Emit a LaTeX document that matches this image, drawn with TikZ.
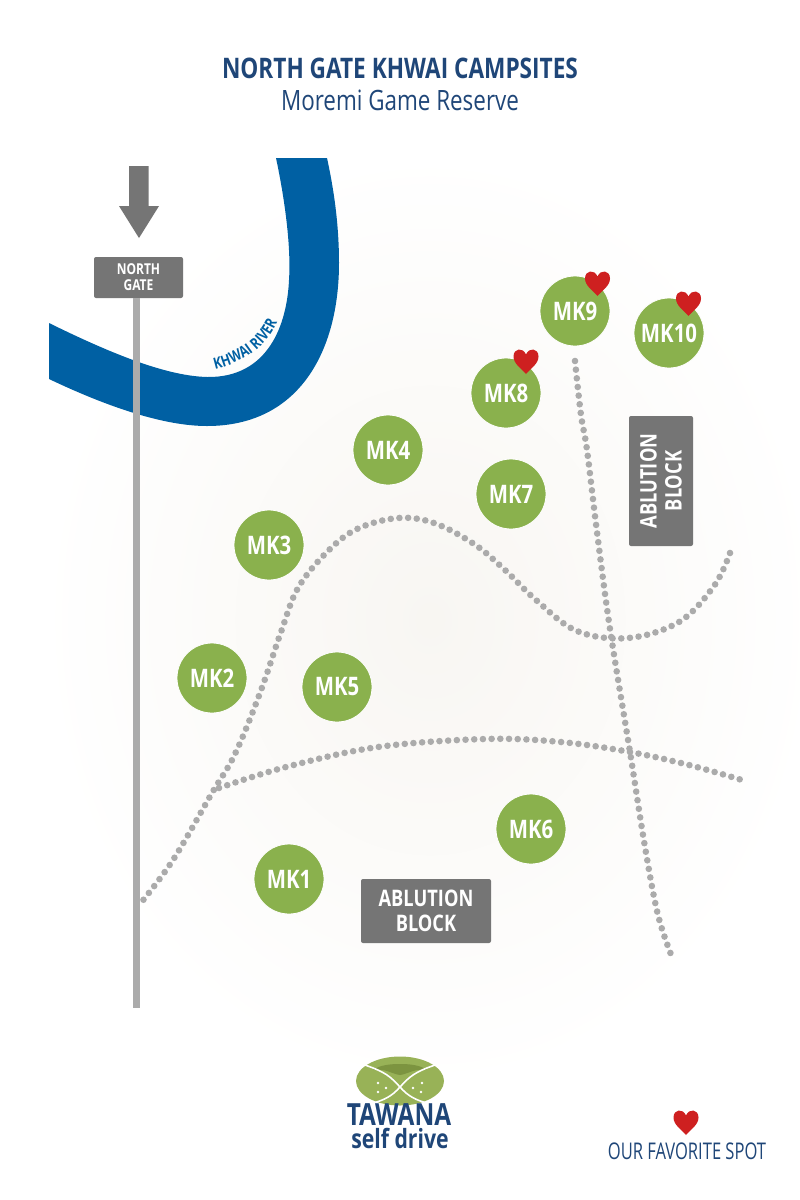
\documentclass[tikz,border=0pt]{standalone}
\usepackage{xcolor}
\usepackage{fontspec}
\setmainfont{Open Sans}
\newfontfamily\narrowfont[FakeStretch=0.8]{Open Sans}
\newfontfamily\slimfont[FakeStretch=0.72]{Open Sans}
\usetikzlibrary{decorations.text}
\definecolor{campgreen}{HTML}{8AB14D}
\definecolor{logogreen}{HTML}{98B257}
\definecolor{logodark}{HTML}{7C9440}
\definecolor{signgrey}{HTML}{757575}
\definecolor{roadgrey}{HTML}{ABABAB}
\definecolor{riverblue}{HTML}{0060A3}
\definecolor{titleblue}{HTML}{1F4678}
\definecolor{heartred}{HTML}{CE2020}
\definecolor{groundtint}{HTML}{F8F6F2}
\tikzset{
	camp/.style={circle,fill=campgreen,draw=white,line width=0.8pt,minimum size=70pt,inner sep=0pt,text=white,font=\narrowfont\bfseries\fontsize{25.5}{25.5}\selectfont},
	signbox/.style={fill=signgrey,rounded corners=2pt,inner sep=0pt,text=white,align=center},
	dotroad/.style={roadgrey,line width=6.6pt,line cap=round,dash pattern=on 0pt off 8.7pt},
	heartmark/.pic={\fill [heartred] (0,12) .. controls (-4,7) and (-12.5,2) .. (-12.5,-5.5) .. controls (-12.5,-14) and (-3,-15) .. (0,-7.5) .. controls (3,-15) and (12.5,-14) .. (12.5,-5.5) .. controls (12.5,2) and (4,7) .. (0,12) -- cycle;}
}
\begin{document}
\begin{tikzpicture}[x=1pt,y=-1pt]
		\useasboundingbox (0,0) rectangle (800,1200);
		\fill [white] (0,0) rectangle (800,1200);
		\shade [inner color=groundtint,outer color=white] (40,150) rectangle (820,1090);
		% title
		\node (title) [text=titleblue,font=\narrowfont\bfseries\fontsize{28.3}{28.3}\selectfont] at (400,68) {NORTH GATE KHWAI CAMPSITES};
		\node (subtitle) [text=titleblue,font=\narrowfont\fontsize{28}{28}\selectfont] at (400,100) {Moremi Game Reserve};
		% river
		\fill [riverblue] (276,158) .. controls (286,205) and (291,250) .. (289,280) .. controls (287,325) and (268,378) .. (207,377) .. controls (170,376) and (120,358) .. (49,323) -- (49,379) .. controls (110,408) and (165,426) .. (207,426) .. controls (300,426) and (339,350) .. (339,263) .. controls (339,225) and (334,190) .. (327,158) -- cycle;
		\path [postaction={decorate,decoration={text along path,text align=center,text color=riverblue,text={|\narrowfont\bfseries\fontsize{15.5}{15.5}\selectfont|KHWAI RIVER}}}] (211,370) .. controls (245,363) and (268,346) .. (279,318);
		% gate
		\node (gate) [signbox,minimum width=89pt,minimum height=41pt,font=\narrowfont\bfseries\fontsize{15}{16}\selectfont] at (138.5,277.5) {NORTH\\GATE};
		\coordinate (postend) at (136.7,1008);
		\draw [roadgrey,line width=6.8pt] (postend |- gate.south) -- (postend);
		\fill [signgrey] (129,166) -- (148.5,166) -- (148.5,206) -- (159,206) -- (139,238) -- (119,206) -- (129,206) -- cycle;
		% roads
		\draw [dotroad] plot [smooth,tension=0.6] coordinates {(575,361) (581,415) (587,450) (597,532) (610,629) (630,752) (645,847) (658,915) (672,957)};
		\draw [dotroad] plot [smooth,tension=0.6] coordinates {(730,553) (714,586) (679,622) (628,638) (577,631) (536,600) (505,570) (474,544) (434,523) (398,518) (357,529) (327,552) (298,588) (281,632) (260,693) (235,754) (212,793) (173,860) (140,904)};
		\draw [dotroad] plot [smooth,tension=0.6] coordinates {(219,788) (286,767) (378,747) (485,739) (561,742) (630,752) (689,765) (742,780)};
		% ablution
		\node (blockright) [signbox,minimum width=64pt,minimum height=130pt] at (661,481) {};
		\node (blockrightname) [rotate=90,text=white,align=center,font=\narrowfont\bfseries\fontsize{22.8}{25}\selectfont] at (blockright) {ABLUTION\\BLOCK};
		\node (blockleft) [signbox,minimum width=130pt,minimum height=64pt,font=\narrowfont\bfseries\fontsize{22.8}{24.5}\selectfont] at (426,911) {ABLUTION\\BLOCK};
		% camps
		\node (mk1) [camp] at (289,879) {MK1};
		\node (mk2) [camp] at (212,678) {MK2};
		\node (mk3) [camp] at (269,545) {MK3};
		\node (mk4) [camp] at (388,450) {MK4};
		\node (mk5) [camp] at (337,687) {MK5};
		\node (mk6) [camp] at (531,829) {MK6};
		\node (mk7) [camp] at (511,494) {MK7};
		\node (mk8) [camp] at (506,393) {MK8};
		\node (mk9) [camp] at (575,311) {MK9};
		\node (mk10) [camp] at (669,333) {MK10};
		\pic at (526,362) {heartmark};
		\pic at (597.5,284) {heartmark};
		\pic at (688.5,304) {heartmark};
		% logo
		\fill [logogreen] (400,1081) ellipse (44 and 24.5);
		\fill [logodark] (373,1070) .. controls (385,1068) and (392,1074) .. (400,1075) .. controls (408,1074) and (415,1068) .. (427,1070) .. controls (420,1065) and (410,1064) .. (400,1064) .. controls (390,1064) and (380,1065) .. (373,1070) -- cycle;
		\draw [white,line width=1.6pt] (365,1065) .. controls (385,1072) and (390,1076) .. (400,1087) .. controls (392,1096) and (385,1100) .. (370,1104);
		\draw [white,line width=1.6pt] (435,1065) .. controls (415,1072) and (410,1076) .. (400,1087) .. controls (408,1096) and (415,1100) .. (430,1104);
		\fill [white] (378,1083) circle (1.4) (386,1088) circle (1.4) (378,1092) circle (1.4) (422,1083) circle (1.4) (413,1088) circle (1.4) (421,1092) circle (1.4);
		\node (tawana) [text=titleblue,font=\narrowfont\bfseries\fontsize{30.5}{30.5}\selectfont] at (399,1115) {TAWANA};
		\node (selfdrive) [text=titleblue,font=\narrowfont\bfseries\fontsize{26.5}{26.5}\selectfont] at (400,1138) {self drive};
		% legend
		\pic at (686,1123) {heartmark};
		\node (favorite) [text=titleblue,font=\slimfont\fontsize{23}{23}\selectfont] at (687,1151) {OUR FAVORITE SPOT};
	\end{tikzpicture}
\end{document}
